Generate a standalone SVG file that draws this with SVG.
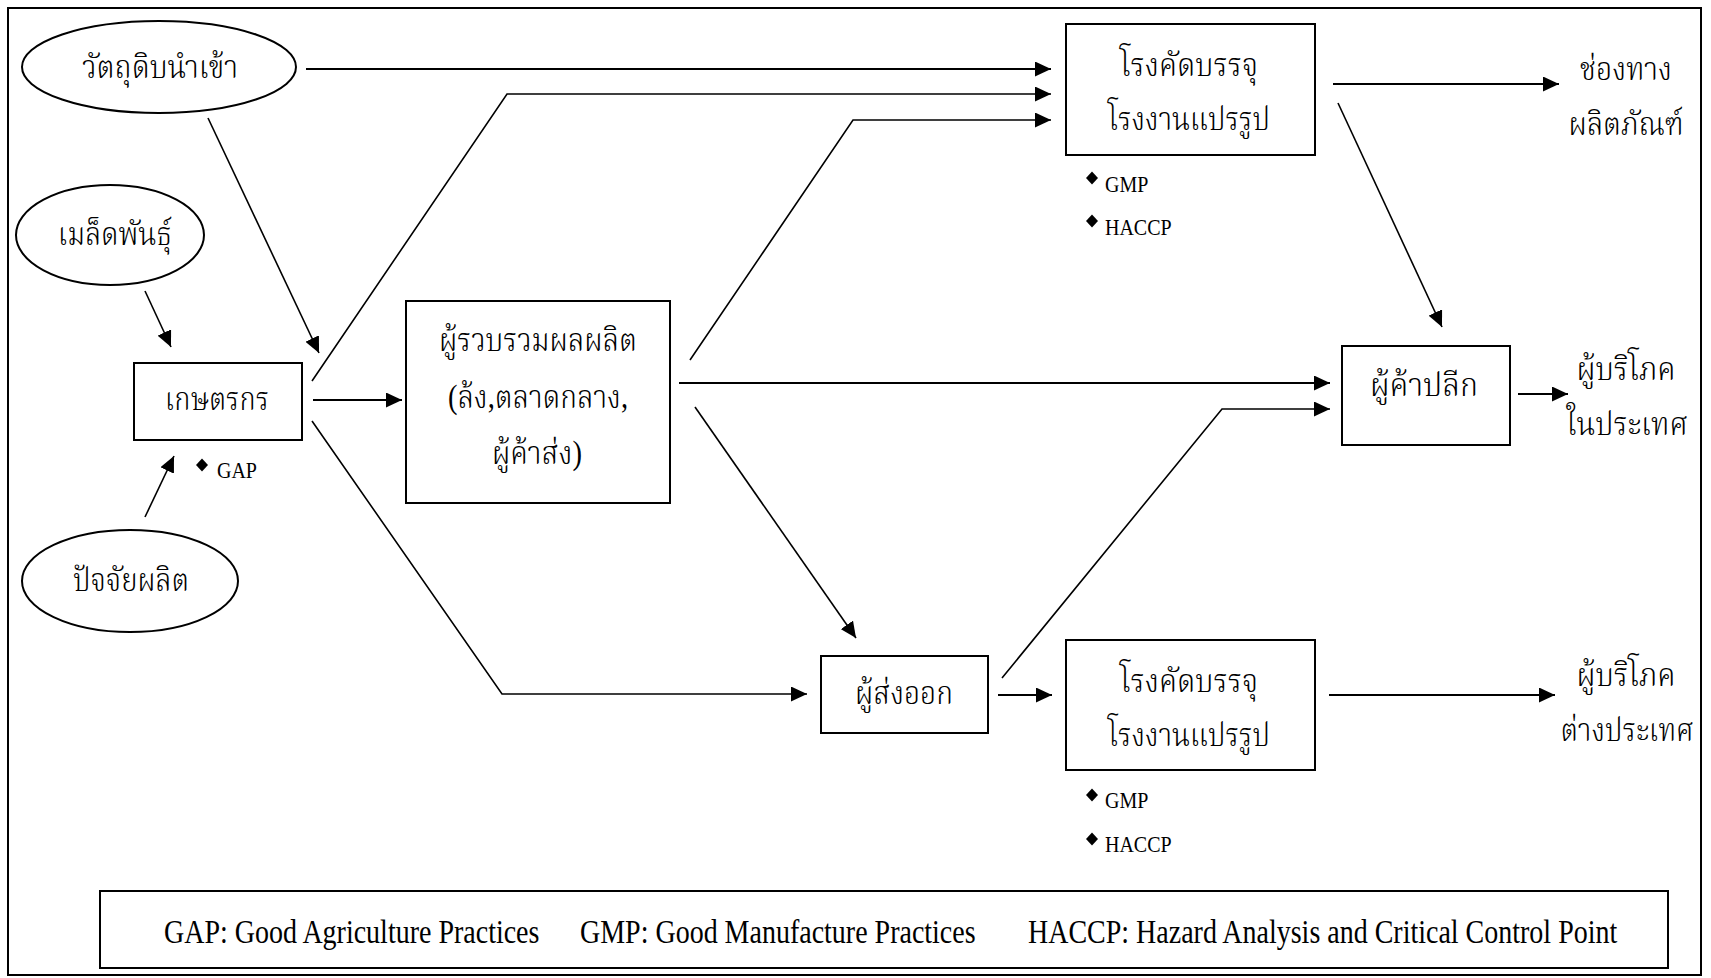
<svg xmlns="http://www.w3.org/2000/svg" width="1711" height="978" viewBox="0 0 1711 978">
  <style>
    .box { fill: #fff; stroke: #000; stroke-width: 2; }
    .oval { fill: #fff; stroke: #000; stroke-width: 2; }
    .th { font-family: "Liberation Serif", "Noto Serif Thai", "Noto Sans Thai", serif; font-size: 28px; font-weight: 300; fill: #000; text-anchor: middle; }
    .sm { font-family: "Liberation Serif", serif; font-size: 20px; fill: #000; }
    .lg { font-family: "Liberation Serif", serif; font-size: 28px; fill: #000; }
    .ln { fill: none; stroke: #000; stroke-width: 2; }
    .dg { fill: none; stroke: #000; stroke-width: 1.6; }
    .arr { marker-end: url(#tip); }
  </style>
  <defs>
    <marker id="tip" markerUnits="userSpaceOnUse" markerWidth="17" markerHeight="15" refX="16" refY="7.5" orient="auto" viewBox="0 0 17 15">
      <path d="M0,0 L16,7.5 L0,15 z" fill="#000"/>
    </marker>
    <path id="dia" d="M0,-6.5 L6,0 L0,6.5 L-6,0 z" fill="#000"/>
  </defs>

  <!-- outer frame -->
  <rect x="8" y="8" width="1693" height="967" fill="#fff" stroke="#000" stroke-width="2"/>

  <!-- connectors -->
  <g id="connectors">
    <path class="ln arr" d="M306,69 H1051"/>
    <path class="dg arr" d="M312,381 L507,94 H1051"/>
    <path class="dg arr" d="M690,360 L853,120 H1051"/>
    <path class="dg arr" d="M208,118 L319,353"/>
    <path class="dg arr" d="M145,291 L171,347"/>
    <path class="dg arr" d="M145,517 L174,456"/>
    <path class="ln arr" d="M313,400 H402"/>
    <path class="dg arr" d="M312,421 L502,694 H807"/>
    <path class="ln arr" d="M679,383 H1330"/>
    <path class="dg arr" d="M695,407 L856,638"/>
    <path class="dg arr" d="M1002,678 L1222,409 H1330"/>
    <path class="ln arr" d="M998,695 H1052"/>
    <path class="ln arr" d="M1333,84 H1559"/>
    <path class="dg arr" d="M1338,103 L1442,327"/>
    <path class="ln arr" d="M1518,394 H1568"/>
    <path class="ln arr" d="M1329,695 H1555"/>
  </g>

  <!-- Thai labels: 28px glyphs stretched vertically to the taller cut -->
  <g id="raw-material">
    <ellipse class="oval" cx="159" cy="67" rx="137" ry="46"/>
    <text class="th" transform="translate(160,78) scale(1,1.18)" textLength="156" lengthAdjust="spacingAndGlyphs">วัตถุดิบนำเข้า</text>
  </g>
  <g id="seeds">
    <ellipse class="oval" cx="110" cy="235" rx="94" ry="50"/>
    <text class="th" transform="translate(115,245) scale(1,1.18)" textLength="114" lengthAdjust="spacingAndGlyphs">เมล็ดพันธุ์</text>
  </g>
  <g id="inputs">
    <ellipse class="oval" cx="130" cy="581" rx="108" ry="51"/>
    <text class="th" transform="translate(131,591) scale(1,1.18)" textLength="116" lengthAdjust="spacingAndGlyphs">ปัจจัยผลิต</text>
  </g>

  <g id="farmer">
    <rect class="box" x="134" y="363" width="168" height="77"/>
    <text class="th" transform="translate(217,410) scale(1,1.18)" textLength="104" lengthAdjust="spacingAndGlyphs">เกษตรกร</text>
    <use href="#dia" x="202" y="465"/>
    <text class="sm" transform="translate(217,478) scale(1,1.12)">GAP</text>
  </g>

  <g id="collector">
    <rect class="box" x="406" y="301" width="264" height="202"/>
    <text class="th" transform="translate(538,351) scale(1,1.18)" textLength="198" lengthAdjust="spacingAndGlyphs">ผู้รวบรวมผลผลิต</text>
    <text class="th" transform="translate(538,408) scale(1,1.18)" textLength="180" lengthAdjust="spacingAndGlyphs">(ล้ง,ตลาดกลาง,</text>
    <text class="th" transform="translate(537,464) scale(1,1.18)" textLength="90" lengthAdjust="spacingAndGlyphs">ผู้ค้าส่ง)</text>
  </g>

  <g id="packhouse-domestic">
    <rect class="box" x="1066" y="24" width="249" height="131"/>
    <text class="th" transform="translate(1189,76) scale(1,1.18)" textLength="138" lengthAdjust="spacingAndGlyphs">โรงคัดบรรจุ</text>
    <text class="th" transform="translate(1189,130) scale(1,1.18)" textLength="162" lengthAdjust="spacingAndGlyphs">โรงงานแปรรูป</text>
    <use href="#dia" x="1092" y="178"/>
    <text class="sm" transform="translate(1105,192) scale(1,1.12)">GMP</text>
    <use href="#dia" x="1092" y="221"/>
    <text class="sm" transform="translate(1105,235) scale(1,1.12)">HACCP</text>
  </g>

  <g id="product-channel">
    <text class="th" transform="translate(1626,80) scale(1,1.18)" textLength="92" lengthAdjust="spacingAndGlyphs">ช่องทาง</text>
    <text class="th" transform="translate(1626,135) scale(1,1.18)" textLength="115" lengthAdjust="spacingAndGlyphs">ผลิตภัณฑ์</text>
  </g>

  <g id="retailer">
    <rect class="box" x="1342" y="346" width="168" height="99"/>
    <text class="th" transform="translate(1424,396) scale(1,1.18)" textLength="108" lengthAdjust="spacingAndGlyphs">ผู้ค้าปลีก</text>
  </g>

  <g id="domestic-consumer">
    <text class="th" transform="translate(1626,380) scale(1,1.18)" textLength="99" lengthAdjust="spacingAndGlyphs">ผู้บริโภค</text>
    <text class="th" transform="translate(1627,435) scale(1,1.18)" textLength="121" lengthAdjust="spacingAndGlyphs">ในประเทศ</text>
  </g>

  <g id="exporter">
    <rect class="box" x="821" y="656" width="167" height="77"/>
    <text class="th" transform="translate(904,704) scale(1,1.18)" textLength="98" lengthAdjust="spacingAndGlyphs">ผู้ส่งออก</text>
  </g>

  <g id="packhouse-export">
    <rect class="box" x="1066" y="640" width="249" height="130"/>
    <text class="th" transform="translate(1189,692) scale(1,1.18)" textLength="138" lengthAdjust="spacingAndGlyphs">โรงคัดบรรจุ</text>
    <text class="th" transform="translate(1189,746) scale(1,1.18)" textLength="162" lengthAdjust="spacingAndGlyphs">โรงงานแปรรูป</text>
    <use href="#dia" x="1092" y="795"/>
    <text class="sm" transform="translate(1105,808) scale(1,1.12)">GMP</text>
    <use href="#dia" x="1092" y="839"/>
    <text class="sm" transform="translate(1105,852) scale(1,1.12)">HACCP</text>
  </g>

  <g id="foreign-consumer">
    <text class="th" transform="translate(1626,686) scale(1,1.18)" textLength="99" lengthAdjust="spacingAndGlyphs">ผู้บริโภค</text>
    <text class="th" transform="translate(1627,741) scale(1,1.18)" textLength="133" lengthAdjust="spacingAndGlyphs">ต่างประเทศ</text>
  </g>

  <g id="legend">
    <rect class="box" x="100" y="891" width="1568" height="77"/>
    <text class="lg" transform="translate(164,943) scale(1,1.18)">GAP: Good Agriculture Practices</text>
    <text class="lg" transform="translate(580,943) scale(1,1.18)">GMP: Good Manufacture Practices</text>
    <text class="lg" transform="translate(1028,943) scale(1,1.18)">HACCP: Hazard Analysis and Critical Control Point</text>
  </g>
</svg>
